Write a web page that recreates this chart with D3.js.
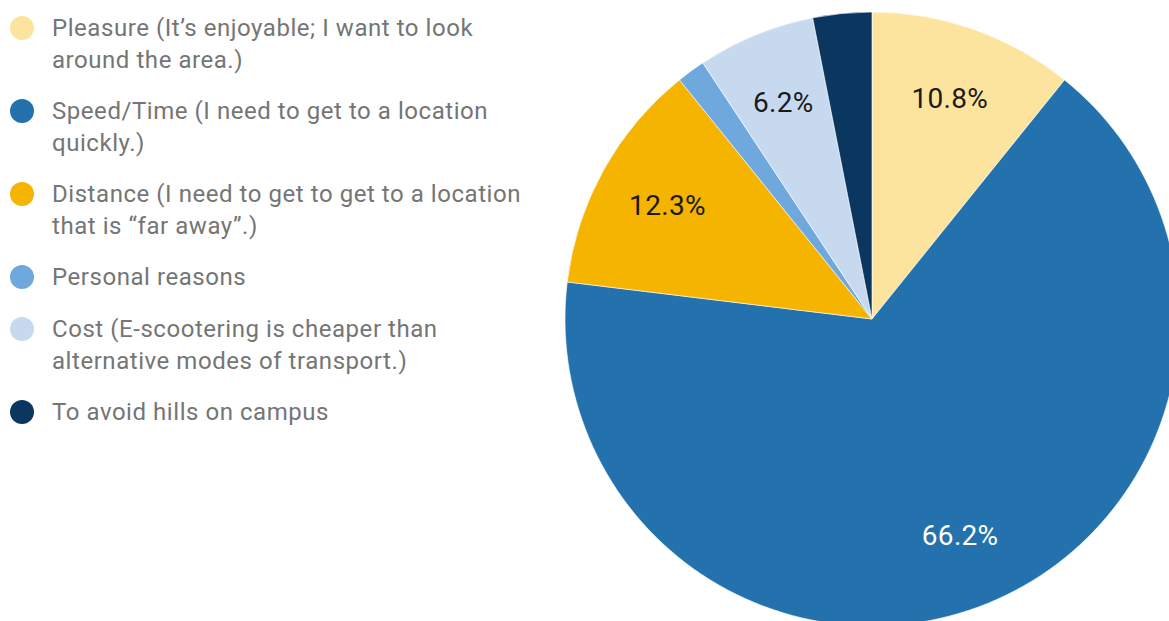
<!DOCTYPE html>
<html>
<head>
<meta charset="utf-8">
<script src="https://cdn.jsdelivr.net/npm/d3@7"></script>
<style>
  html, body { margin: 0; padding: 0; background: #fff; }
  svg { display: block; }
</style>
</head>
<body>
<svg id="chart" width="1169" height="621"></svg>
<script>
// Reasons for choosing an e-scooter (share of responses, %)
const reasons = [
  "Pleasure (It’s enjoyable; I want to look around the area.)",
  "Speed/Time (I need to get to a location quickly.)",
  "Distance (I need to get to get to a location that is “far away”.)",
  "Personal reasons",
  "Cost (E-scootering is cheaper than alternative modes of transport.)",
  "To avoid hills on campus"
];
const legendLines = [
  ["Pleasure (It’s enjoyable; I want to look", "around the area.)"],
  ["Speed/Time (I need to get to a location", "quickly.)"],
  ["Distance (I need to get to get to a location", "that is “far away”.)"],
  ["Personal reasons"],
  ["Cost (E-scootering is cheaper than", "alternative modes of transport.)"],
  ["To avoid hills on campus"]
];
const shares = [10.8, 66.2, 12.3, 1.5, 6.2, 3.1];
const sliceColors = ["#fde49e", "#2372ae", "#f4b400", "#6fa8dc", "#c6d9ef", "#0b365f"];
const labelColors = ["#1a1a1a", "#ffffff", "#1a1a1a", "#1a1a1a", "#1a1a1a", "#1a1a1a"];

const svg = d3.select("#chart");
const font = "Roboto, 'Noto Sans', sans-serif";

const data = reasons.map((r, i) => ({ reason: r, share: shares[i], i }));

const color = d3.scaleOrdinal().domain(reasons).range(sliceColors);

// Pie
const cx = 872, cy = 319, R = 307;
const pie = d3.pie().sort(null).value(d => d.share);
const arcs = pie(data);
const arc = d3.arc().innerRadius(0).outerRadius(R);
const labelArc = d3.arc().innerRadius(234).outerRadius(234);

const g = svg.append("g").attr("transform", `translate(${cx},${cy})`);
g.selectAll("path.slice")
  .data(arcs)
  .join("path")
  .attr("class", "slice")
  .attr("d", arc)
  .attr("fill", d => color(d.data.reason))
  .attr("stroke", "#ffffff")
  .attr("stroke-width", 0.6);

// Percent labels on slices wide enough to hold them
g.selectAll("text.pct")
  .data(arcs.filter(d => d.data.share >= 5))
  .join("text")
  .attr("class", "pct")
  .attr("transform", d => `translate(${labelArc.centroid(d)})`)
  .attr("text-anchor", "middle")
  .attr("dominant-baseline", "central")
  .attr("font-family", font)
  .attr("font-size", 28)
  .attr("letter-spacing", 0.3)
  .attr("fill", d => labelColors[d.data.i])
  .text(d => d.data.share.toFixed(1) + "%");

// Legend
const legend = svg.append("g").attr("transform", "translate(0,0)");
const lineH = 32, itemGap = 51;
let y = 28;
legendLines.forEach((lines, i) => {
  const item = legend.append("g").attr("transform", `translate(0,${y})`);
  item.append("circle")
    .attr("cx", 22).attr("cy", 0).attr("r", 12)
    .attr("fill", color(reasons[i]));
  item.selectAll("text")
    .data(lines)
    .join("text")
    .attr("x", 52)
    .attr("y", (d, k) => k * lineH)
    .attr("dominant-baseline", "central")
    .attr("font-family", font)
    .attr("font-size", 24)
    .attr("letter-spacing", 0.55)
    .attr("fill", "#757575")
    .text(d => d);
  y += (lines.length - 1) * lineH + itemGap + (lines.length === 1 ? 1 : 0);
});
</script>
</body>
</html>
